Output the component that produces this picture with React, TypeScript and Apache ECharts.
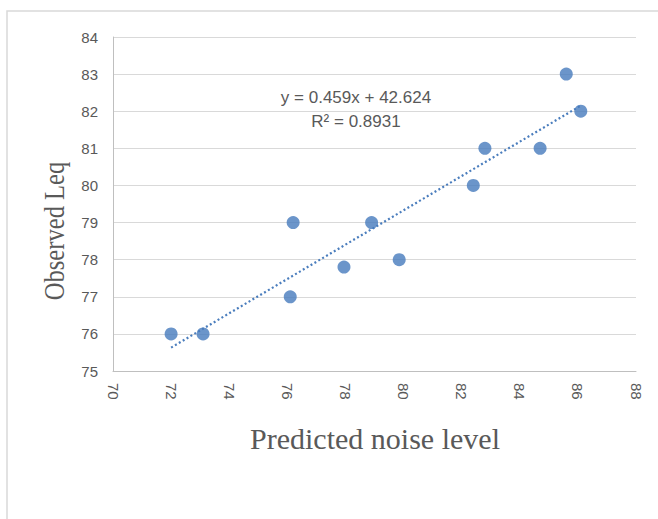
import React, { useEffect, useRef } from "react";
import * as echarts from "echarts";

const predicted: number[] = [72.0, 73.1, 76.1, 76.2, 77.95, 78.9, 79.85, 82.4, 82.8, 84.7, 85.6, 86.1];
const observed: number[] = [76, 76, 77, 79, 77.8, 79, 78, 80, 81, 81, 83, 82];
const trendX: number[] = [72.0, 86.1];
const trendY: number[] = [75.63, 82.15];
const equationText = "y = 0.459x + 42.624";
const r2Text = "R² = 0.8931";
const xTitle = "Predicted noise level";
const yTitle = "Observed Leq";

export default function App() {
  const ref = useRef<HTMLDivElement>(null);
  useEffect(() => {
    if (!ref.current) return;
    const chart = echarts.init(ref.current, null, { renderer: "svg" });
    const textColor = "#595959";
    const sans = "Liberation Sans Narrow, Liberation Sans, sans-serif";
    chart.setOption({
      animation: false,
      backgroundColor: "#ffffff",
      grid: { left: 113, right: 22, top: 37, bottom: 148 },
      xAxis: {
        type: "value",
        min: 70,
        max: 88,
        interval: 2,
        axisLine: { show: true, lineStyle: { color: "#bfbfbf", width: 1 } },
        axisTick: { show: false },
        splitLine: { show: false },
        axisLabel: { rotate: -90, margin: 12, color: textColor, fontSize: 15, fontFamily: sans },
      },
      yAxis: {
        type: "value",
        min: 75,
        max: 84,
        interval: 1,
        axisLine: { show: true, lineStyle: { color: "#bfbfbf", width: 1 } },
        axisTick: { show: false },
        splitLine: { show: true, lineStyle: { color: "#d9d9d9", width: 1 } },
        axisLabel: { margin: 15, color: textColor, fontSize: 15, fontFamily: sans },
      },
      series: [
        {
          type: "line",
          data: trendX.map((x, i) => [x, trendY[i]]),
          symbol: "none",
          lineStyle: { color: "#4a7dbd", width: 2.2, type: [2, 2.5] },
          z: 2,
        },
        {
          type: "scatter",
          data: predicted.map((x, i) => [x, observed[i]]),
          symbol: "circle",
          symbolSize: 13,
          itemStyle: { color: "#467bbd" },
          z: 3,
        },
      ],
      graphic: [
        {
          type: "rect",
          shape: { x: 7, y: 11, width: 700, height: 600 },
          style: { fill: "none", stroke: "#d9d9d9", lineWidth: 1.5 },
          silent: true,
        },
        {
          type: "text",
          x: 356,
          y: 97,
          style: {
            text: equationText,
            fill: textColor,
            fontSize: 17,
            fontFamily: sans,
            textAlign: "center",
            textVerticalAlign: "middle",
          },
        },
        {
          type: "text",
          x: 356,
          y: 121,
          style: {
            text: r2Text,
            fill: textColor,
            fontSize: 17,
            fontFamily: sans,
            textAlign: "center",
            textVerticalAlign: "middle",
          },
        },
        {
          type: "text",
          x: 375,
          y: 438,
          style: {
            text: xTitle,
            fill: textColor,
            fontSize: 30,
            fontFamily: "Liberation Serif, serif",
            textAlign: "center",
            textVerticalAlign: "middle",
          },
        },
        {
          type: "text",
          x: 54,
          y: 231,
          rotation: Math.PI / 2,
          scaleX: 0.82,
          style: {
            text: yTitle,
            fill: textColor,
            fontSize: 30,
            fontFamily: "Liberation Serif, serif",
            textAlign: "center",
            textVerticalAlign: "middle",
          },
        },
      ],
    });
    return () => chart.dispose();
  }, []);
  return (
    <div
      ref={ref}
      style={{ position: "fixed", left: 0, top: 0, width: 658, height: 519, background: "#fff" }}
    />
  );
}
